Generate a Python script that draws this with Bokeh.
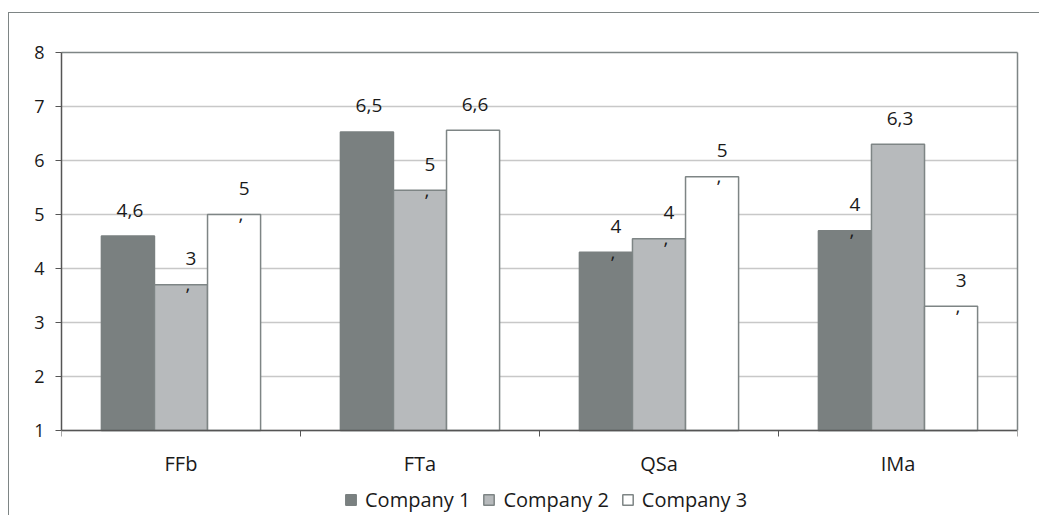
from bokeh.plotting import figure
from bokeh.models import FixedTicker, ColumnDataSource, Legend, LegendItem, Range1d, LinearAxis
from bokeh.layouts import column
from bokeh.transform import dodge
from bokeh.core.properties import value
from bokeh.embed import file_html
from bokeh.resources import INLINE

categories = ["FFb", "FTa", "QSa", "IMa"]
series_names = ["Company 1", "Company 2", "Company 3"]
company1 = [4.6, 6.53, 4.3, 4.7]
company2 = [3.7, 5.45, 4.55, 6.3]
company3 = [5.0, 6.56, 5.7, 3.3]
labels1 = ["4,6", "6,5", "4", "4"]
labels2 = ["3", "5", "4", "6,3"]
labels3 = ["5", "6,6", "5", "3"]
y_ticks = [1, 2, 3, 4, 5, 6, 7, 8]

FONT = "Open Sans"
fills = ["#7a8080", "#b7babc", "#ffffff"]
edge = "#7e8585"
dark = "#555555"

centers = [i + 0.5 for i in range(len(categories))]
src = ColumnDataSource(dict(
    x=centers, c1=company1, c2=company2, c3=company3,
    l1=labels1, l2=labels2, l3=labels3,
))

y_min, y_max = y_ticks[0], y_ticks[-1]
p = figure(width=1030, height=502, output_backend="svg", toolbar_location=None,
           x_range=Range1d(0, len(categories)), y_range=Range1d(y_min - 1.574, y_max),
           min_border_left=52, min_border_right=22, min_border_top=39, min_border_bottom=0)
p.outline_line_color = None

bar_w = 0.222
offs = [-0.222, 0.0, 0.222]
cols = ["c1", "c2", "c3"]
lcols = ["l1", "l2", "l3"]
renderers = []
for k in range(3):
    r = p.vbar(x=dodge("x", offs[k], range=p.x_range), top=cols[k], bottom=y_min, width=bar_w,
               source=src, fill_color=fills[k],
               line_color=(fills[k] if k == 0 else edge), line_width=1.5)
    renderers.append(r)

# value labels
for k in range(3):
    labs = src.data[lcols[k]]
    vals = src.data[cols[k]]
    sub_full = ColumnDataSource(dict(
        x=[c for c, s in zip(centers, labs) if "," in s],
        y=[v for v, s in zip(vals, labs) if "," in s],
        t=[s for s in labs if "," in s]))
    sub_short = ColumnDataSource(dict(
        x=[c for c, s in zip(centers, labs) if "," not in s],
        y=[v for v, s in zip(vals, labs) if "," not in s],
        t=[s for s in labs if "," not in s]))
    p.text(x=dodge("x", offs[k], range=p.x_range), y="y", text="t", source=sub_full,
           text_align="center", text_baseline="alphabetic", y_offset=-26, x_offset=2,
           text_font=value(FONT), text_font_size="19px", text_color="#1a1a1a")
    p.text(x=dodge("x", offs[k], range=p.x_range), y="y", text="t", source=sub_short,
           text_align="center", text_baseline="alphabetic", y_offset=-26, x_offset=10,
           text_font=value(FONT), text_font_size="19px", text_color="#1a1a1a")
    p.text(x=dodge("x", offs[k], range=p.x_range), y="y", text=value(","), source=sub_short,
           text_align="center", text_baseline="alphabetic", y_offset=0, x_offset=7,
           text_font=value(FONT), text_font_size="19px", text_color="#1a1a1a")

# grid and axes
p.xgrid.visible = False
p.ygrid.grid_line_color = "#c8c8c8"
p.ygrid.grid_line_width = 1.5
p.yaxis.ticker = FixedTicker(ticks=y_ticks)
p.yaxis.bounds = (y_min, y_max)
p.yaxis.axis_line_color = dark
p.yaxis.axis_line_width = 1.5
p.yaxis.major_tick_line_color = dark
p.yaxis.major_tick_out = 6
p.yaxis.major_tick_in = 0
p.yaxis.minor_tick_line_color = None
p.yaxis.major_label_standoff = 11
p.yaxis.major_label_text_font = FONT
p.yaxis.major_label_text_font_size = "18px"
p.yaxis.major_label_text_color = "#1a1a1a"

p.xaxis.fixed_location = y_min
p.xaxis.ticker = FixedTicker(ticks=centers, minor_ticks=list(range(len(categories) + 1)))
p.xaxis.major_label_overrides = {c: n for c, n in zip(centers, categories)}
p.xaxis.axis_line_color = dark
p.xaxis.axis_line_width = 1.5
p.xaxis.major_tick_line_color = None
p.xaxis.major_tick_out = 0
p.xaxis.major_tick_in = 0
p.xaxis.minor_tick_line_color = dark
p.xaxis.minor_tick_out = 6
p.xaxis.minor_tick_in = 0
p.xaxis.major_label_standoff = 13
p.xaxis.major_label_text_font = FONT
p.xaxis.major_label_text_font_size = "20px"
p.xaxis.major_label_text_color = "#1a1a1a"

top_ax = LinearAxis(ticker=FixedTicker(ticks=[]), major_label_text_font_size="0px",
                    axis_line_color=edge, axis_line_width=1.5,
                    major_tick_line_color=None, minor_tick_line_color=None)
p.add_layout(top_ax, "above")
right_ax = LinearAxis(ticker=FixedTicker(ticks=[]), bounds=(y_min, y_max), major_label_text_font_size="0px",
                      axis_line_color=edge, axis_line_width=1.5,
                      major_tick_line_color=None, minor_tick_line_color=None)
p.add_layout(right_ax, "right")

legend = Legend(items=[LegendItem(label=series_names[k], renderers=[renderers[k]]) for k in range(3)],
                orientation="horizontal", location=(283, 2),
                label_text_font=FONT, label_text_font_size="20px", label_text_color="#1a1a1a",
                glyph_width=13, glyph_height=13, label_standoff=8, spacing=12,
                border_line_color=None, background_fill_alpha=0, padding=0, margin=0)
p.add_layout(legend, "center")

layout = column(p, width=1031, height=503,
                styles={"border-left": "1px solid #7e8585", "border-top": "1px solid #7e8585",
                        "margin-top": "12px", "margin-left": "8px"})

open("out.html", "w").write(file_html(layout, INLINE))
